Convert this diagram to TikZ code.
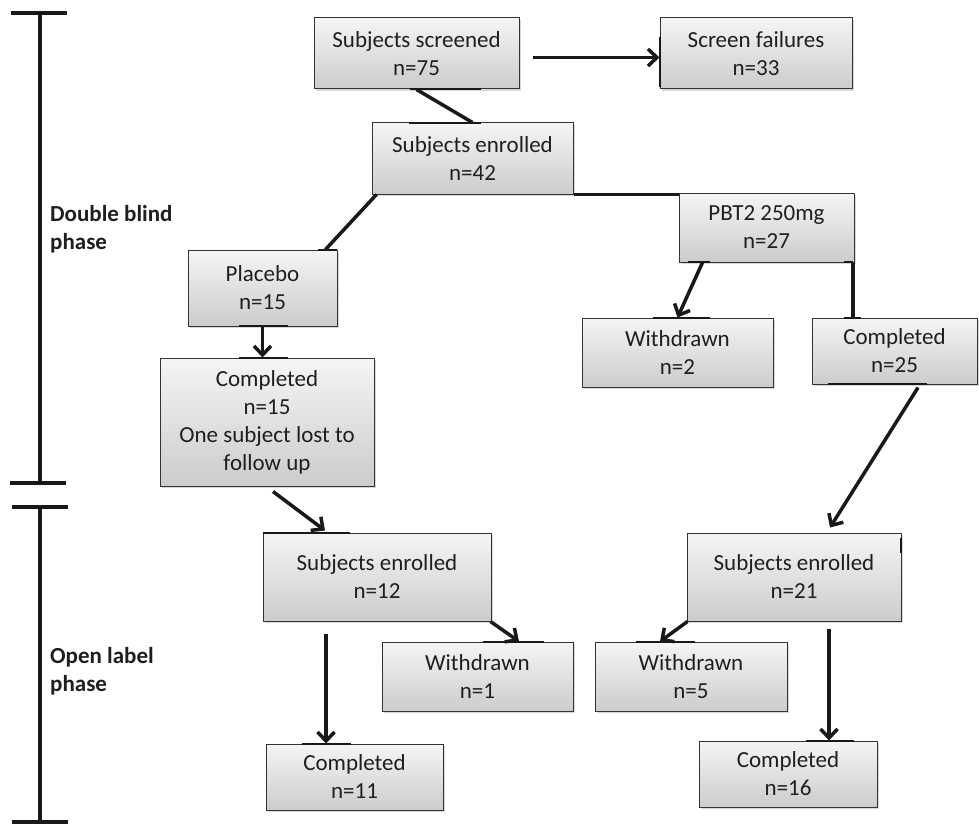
\documentclass[tikz,border=0pt]{standalone}
\usepackage{fontspec}
\setmainfont{Carlito}
\usetikzlibrary{arrows.meta,shadows}
\begin{document}
\begin{tikzpicture}[x=1pt,y=-1pt,
  box/.style={draw=black!80, line width=1pt, inner sep=0pt, align=center,
    top color=black!4, bottom color=black!20, text=black!88,
    font=\fontsize{23}{28}\selectfont,
    drop shadow={shadow xshift=2pt, shadow yshift=-2pt, opacity=0.25, fill=black!60}},
  conn/.style={line width=3.5pt, black!90},
  arr/.style={conn, -{Straight Barb[length=9pt,width=17pt,line width=3.5pt]}},
  edgemark/.style={line width=2.5pt, black!90},
  phase/.style={anchor=north west, inner sep=0pt, align=left, text=black!88,
    font=\fontsize{23}{28}\selectfont\bfseries},
  barline/.style={line width=3.5pt, black!90}]
\useasboundingbox (0,0) rectangle (979,824);
\fill[white] (0,0) rectangle (979,824);

% phase bars
\coordinate (t1) at (40,13);
\coordinate (b1) at (40,483);
\coordinate (t2) at (40,507);
\coordinate (b2) at (40,822);
\draw[barline] ([xshift=-29pt]t1) -- ([xshift=27pt]t1);
\draw[barline] (t1) -- (b1);
\draw[barline] ([xshift=-30pt]b1) -- ([xshift=26pt]b1);
\draw[barline] ([xshift=-28pt]t2) -- ([xshift=28pt]t2);
\draw[barline] (t2) -- (b2);
\draw[barline] ([xshift=-28pt]b2) -- ([xshift=28pt]b2);
\node[phase] (dbl) at (50,205) {Double blind\\phase};
\node[phase] (opl) at (50,647) {Open label\\phase};

% boxes
\node[box, minimum width=205pt, minimum height=71pt] (scr) at (416.5,53.5) {Subjects screened\\n=75};
\node[box, minimum width=192pt, minimum height=71pt] (fail) at (756,53.5) {Screen failures\\n=33};
\node[box, minimum width=201pt, minimum height=71pt] (enr) at (472.5,158.5) {Subjects enrolled\\n=42};
\node[box, minimum width=175pt, minimum height=69pt] (pbt) at (766.5,227.5) {PBT2 250mg\\n=27};
\node[box, minimum width=149pt, minimum height=76pt] (plc) at (262.5,288) {Placebo\\n=15};
\node[box, minimum width=191pt, minimum height=69pt] (wd2) at (677.5,352.5) {Withdrawn\\n=2};
\node[box, minimum width=165pt, minimum height=66pt] (c25) at (894.5,351) {Completed\\n=25};
\node[box, minimum width=214pt, minimum height=128pt] (c15) at (267,422) {Completed\\n=15\\One subject lost to\\follow up};
\node[box, minimum width=228pt, minimum height=88pt] (e12) at (377,577) {Subjects enrolled\\n=12};
\node[box, minimum width=214pt, minimum height=88pt] (e21) at (794,577) {Subjects enrolled\\n=21};
\node[box, minimum width=191pt, minimum height=69pt] (wd1) at (477.5,676.5) {Withdrawn\\n=1};
\node[box, minimum width=192pt, minimum height=69pt] (wd5) at (691,676.5) {Withdrawn\\n=5};
\node[box, minimum width=177pt, minimum height=66pt] (c11) at (354.5,777) {Completed\\n=11};
\node[box, minimum width=178pt, minimum height=66pt] (c16) at (788,774) {Completed\\n=16};

% thick marks on box edges
\draw[edgemark] (410,89) -- (481,89);
\draw[edgemark] (409,123) -- (481,123);
\draw[edgemark] (660,37) -- (660,87);
\draw[edgemark] (318,250) -- (337,250);
\draw[edgemark] (239,326) -- (288,326);
\draw[edgemark] (239,358) -- (288,358);
\draw[edgemark] (688,262) -- (710,262);
\draw[edgemark] (844,262) -- (853,262);
\draw[edgemark] (653,318) -- (710,318);
\draw[edgemark] (844,318) -- (861,318);
\draw[edgemark] (828,384) -- (927,384);
\draw[edgemark] (901,538) -- (901,553);
\draw[edgemark] (636,642) -- (695,642);
\draw[edgemark] (806,741) -- (854,741);
\draw[edgemark] (263,533) -- (350,533);
\draw[edgemark] (483,642) -- (544,642);
\draw[edgemark] (302,744) -- (351,744);

% connectors
\draw[arr] ([xshift=13pt,yshift=-4pt]scr.east) -- ([yshift=-4pt]fail.west);
\draw[conn] (scr.south) -- (enr.north);
\draw[conn] ([xshift=5pt]enr.south west) -- ([xshift=-12pt]plc.north east);
\draw[conn] (enr.south east) -- (enr.south east -| pbt.west);
\draw[arr] ([xshift=24pt]pbt.south west) -- (wd2.north);
\draw[conn] ([xshift=-1.5pt]pbt.south east) -- ([xshift=-1.5pt]pbt.south east |- c25.north);
\draw[arr] (plc.south) -- (plc.south |- c15.north);
\draw[arr] ([xshift=6pt,yshift=-5pt]c15.south) -- ([xshift=-52pt,yshift=2pt]e12.north);
\draw[arr] ([xshift=23.5pt,yshift=-3pt]c25.south) -- ([xshift=36pt,yshift=5pt]e21.north);
\draw[arr] ([xshift=-1pt]e12.south east) -- ([xshift=41.5pt]wd1.north);
\draw[arr] ([xshift=-51pt,yshift=-12pt]e12.south) -- ([xshift=-51pt]e12.south |- c11.north);
\draw[arr] ([xshift=1pt]e21.south west) -- ([xshift=-31pt]wd5.north);
\draw[arr] ([xshift=35pt,yshift=-7pt]e21.south) -- ([xshift=35pt]e21.south |- c16.north);
\end{tikzpicture}
\end{document}
